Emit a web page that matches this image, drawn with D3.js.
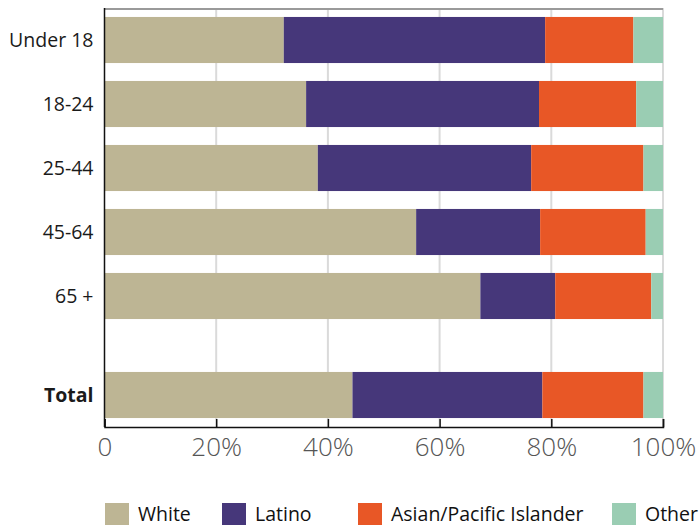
<!DOCTYPE html>
<html>
<head>
<meta charset="utf-8">
<script src="https://cdn.jsdelivr.net/npm/d3@7"></script>
<style>
  html, body { margin: 0; padding: 0; background: #fff; }
  svg { display: block; }
</style>
</head>
<body>
<svg id="chart" width="700" height="527"></svg>
<script>
// Population share by age group and race/ethnicity (percent of each group)
const categories = ["Under 18", "18-24", "25-44", "45-64", "65 +", "Total"];
const seriesNames = ["White", "Latino", "Asian/Pacific Islander", "Other"];
const white  = [32.1, 36.1, 38.2, 55.8, 67.3, 44.4];
const latino = [46.8, 41.7, 38.2, 22.2, 13.4, 34.0];
const asian  = [15.8, 17.4, 20.1, 18.9, 17.2, 18.1];
const other  = [ 5.3,  4.8,  3.5,  3.1,  2.1,  3.5];
const tickValues = [0, 20, 40, 60, 80, 100];
const tickLabels = ["0", "20%", "40%", "60%", "80%", "100%"];
const colors = ["#bdb594", "#46377a", "#e85726", "#9acdb3"];

const rows = categories.map((c, i) => ({
  category: c,
  "White": white[i],
  "Latino": latino[i],
  "Asian/Pacific Islander": asian[i],
  "Other": other[i]
}));

const svg = d3.select("#chart");
const plotLeft = 104.5, plotRight = 663, plotTop = 8, plotBottom = 427;
const totalGap = 35;

const x = d3.scaleLinear().domain([0, 100]).range([plotLeft, plotRight]);
const y = d3.scaleBand()
  .domain(categories)
  .range([plotTop, plotTop + 6 * 64])
  .paddingInner(0.28)
  .paddingOuter(0.14);
const yPos = c => y(c) + (c === "Total" ? totalGap : 0);
const color = d3.scaleOrdinal().domain(seriesNames).range(colors);

// vertical gridlines
svg.append("g")
  .selectAll("line")
  .data(tickValues.slice(1))
  .join("line")
  .attr("x1", d => x(d)).attr("x2", d => x(d))
  .attr("y1", plotTop).attr("y2", plotBottom)
  .attr("stroke", "#dadada")
  .attr("stroke-width", 2);

// top frame line
svg.append("line")
  .attr("x1", plotLeft).attr("x2", plotRight)
  .attr("y1", plotTop + 1).attr("y2", plotTop + 1)
  .attr("stroke", "#9a9a9a")
  .attr("stroke-width", 2);

// stacked bars
const stack = d3.stack().keys(seriesNames);
const layers = stack(rows);

svg.append("g")
  .selectAll("g")
  .data(layers)
  .join("g")
  .attr("fill", d => color(d.key))
  .selectAll("rect")
  .data(d => d)
  .join("rect")
  .attr("x", d => x(d[0]))
  .attr("width", d => x(d[1]) - x(d[0]))
  .attr("y", d => yPos(d.data.category))
  .attr("height", y.bandwidth());

// left axis line
svg.append("line")
  .attr("x1", plotLeft).attr("x2", plotLeft)
  .attr("y1", plotTop).attr("y2", plotBottom)
  .attr("stroke", "#111")
  .attr("stroke-width", 1.5);

// bottom axis
const xAxis = d3.axisBottom(x)
  .tickValues(tickValues)
  .tickFormat((d, i) => tickLabels[i])
  .tickSize(-8)
  .tickPadding(11);

const gx = svg.append("g")
  .attr("transform", `translate(0,${plotBottom})`)
  .call(xAxis);
gx.select(".domain").attr("stroke", "#111").attr("stroke-width", 1.5);
gx.selectAll(".tick line").attr("stroke", "#111").attr("stroke-width", 1.5);
gx.selectAll(".tick text")
  .attr("fill", "#555")
  .style("font-family", "'Open Sans', sans-serif")
  .style("font-size", "26px")
  .style("font-weight", 300);

// category labels
svg.append("g")
  .selectAll("text")
  .data(categories)
  .join("text")
  .attr("x", plotLeft - 11)
  .attr("y", d => yPos(d) + y.bandwidth() / 2)
  .attr("dy", "0.35em")
  .attr("text-anchor", "end")
  .attr("fill", "#1a1a1a")
  .style("font-family", "'Open Sans', sans-serif")
  .style("font-size", "19.5px")
  .style("font-weight", d => d === "Total" ? 700 : 400)
  .text(d => d);

// legend
const legendX = [105, 222, 358, 612];
const legend = svg.append("g")
  .selectAll("g")
  .data(seriesNames)
  .join("g")
  .attr("transform", (d, i) => `translate(${legendX[i]},503)`);
legend.append("rect")
  .attr("width", 24).attr("height", 22)
  .attr("fill", d => color(d));
legend.append("text")
  .attr("x", 33)
  .attr("y", 11)
  .attr("dy", "0.35em")
  .attr("fill", "#111")
  .style("font-family", "'Open Sans', sans-serif")
  .style("font-size", "19.5px")
  .text(d => d);
</script>
</body>
</html>
